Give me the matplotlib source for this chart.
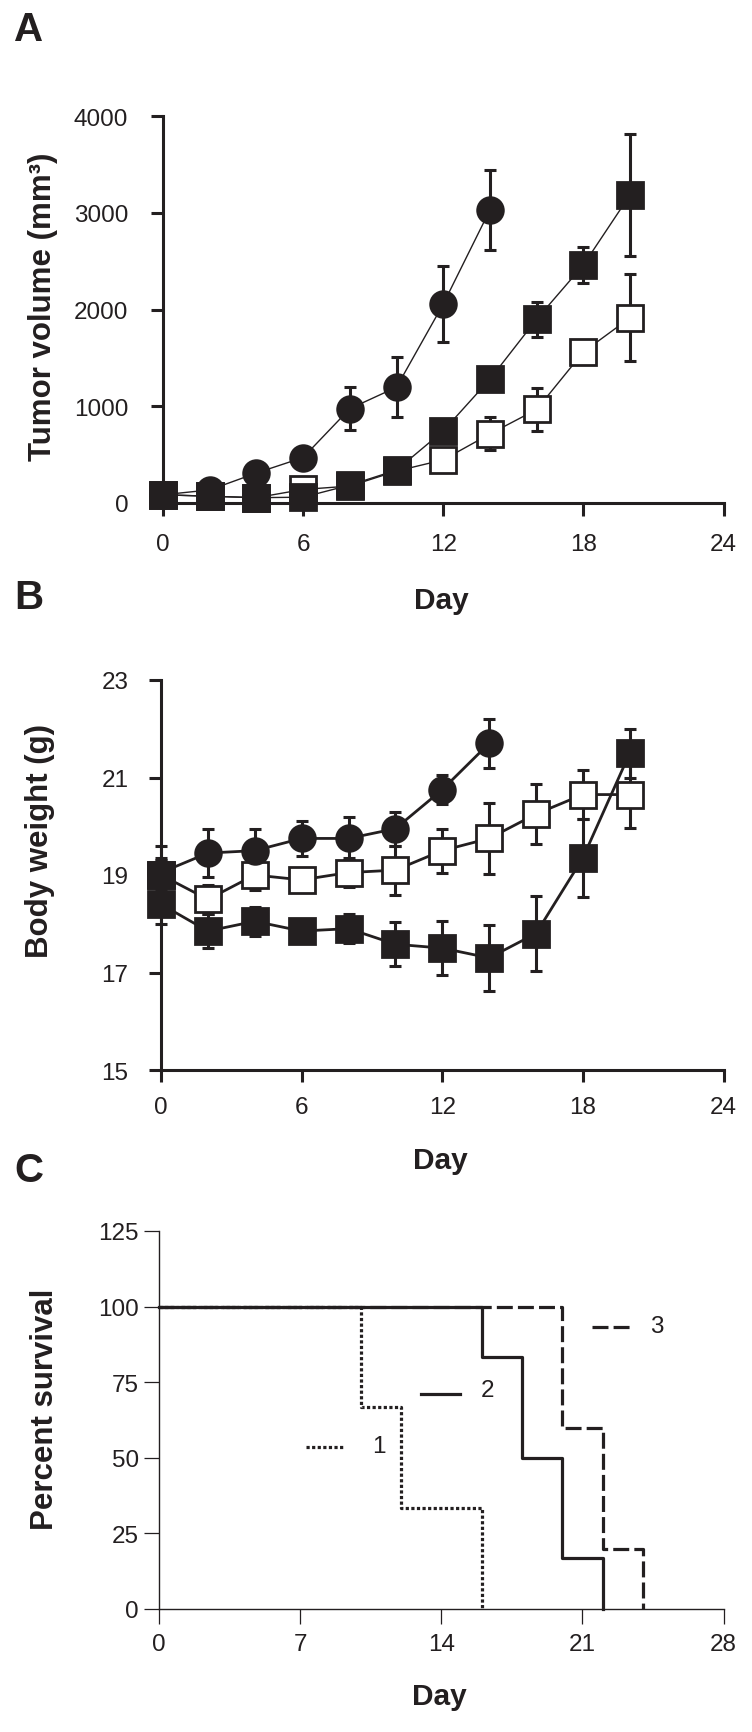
import matplotlib
matplotlib.use('Agg')
import matplotlib.pyplot as plt
from matplotlib.lines import Line2D

plt.rcParams['font.family'] = ['Liberation Sans', 'DejaVu Sans']

INK = '#231f20'

# ---------------- Panel A: tumor volume ----------------
a_days_circle = [0, 2, 4, 6, 8, 10, 12, 14]
a_circle = [85, 135, 310, 470, 975, 1197, 2056, 3030]
a_circle_err = [10, 20, 30, 40, 220, 310, 390, 415]

a_days_sq = [0, 2, 4, 6, 8, 10, 12, 14, 16, 18, 20]
a_filled = [85, 70, 55, 60, 185, 340, 745, 1280, 1900, 2460, 3185]
a_filled_err = [10, 10, 10, 10, 20, 30, 50, 60, 180, 190, 630]
a_open = [85, 70, 55, 140, 175, 330, 446, 714, 967, 1561, 1915]
a_open_err = [10, 10, 10, 20, 20, 30, 50, 170, 220, 60, 450]

a_xticks = [0, 6, 12, 18, 24]
a_yticks = [0, 1000, 2000, 3000, 4000]

# ---------------- Panel B: body weight ----------------
b_days_circle = [0, 2, 4, 6, 8, 10, 12, 14]
b_circle = [19.05, 19.45, 19.5, 19.75, 19.75, 19.95, 20.75, 21.7]
b_circle_err = [0.55, 0.5, 0.45, 0.35, 0.45, 0.35, 0.3, 0.5]

b_days_sq = [0, 2, 4, 6, 8, 10, 12, 14, 16, 18, 20]
b_open = [19.0, 18.5, 19.0, 18.9, 19.05, 19.1, 19.5, 19.75, 20.25, 20.65, 20.65]
b_open_err = [0.3, 0.3, 0.3, 0.2, 0.3, 0.5, 0.45, 0.73, 0.62, 0.5, 0.68]
b_filled = [18.4, 17.85, 18.05, 17.85, 17.9, 17.58, 17.5, 17.3, 17.8, 19.35, 21.5]
b_filled_err = [0.4, 0.35, 0.3, 0.2, 0.3, 0.45, 0.55, 0.67, 0.77, 0.8, 0.5]
b_extra_day = [0]
b_extra = [19.0]
b_extra_err = [0.35]

b_xticks = [0, 6, 12, 18, 24]
b_yticks = [15, 17, 19, 21, 23]

# ---------------- Panel C: survival ----------------
c1_days = [0, 10, 12, 16]
c1_surv = [100, 66.7, 33.3, 0]
c2_days = [0, 16, 18, 20, 22]
c2_surv = [100, 83.3, 50, 16.7, 0]
c3_days = [0, 20, 22, 24]
c3_surv = [100, 60, 20, 0]
c_labels = ['1', '2', '3']

c_xticks = [0, 7, 14, 21, 28]
c_yticks = [0, 25, 50, 75, 100, 125]

W, H = 752, 1733
fig = plt.figure(figsize=(W / 100, H / 100), dpi=100)


def px_axes(left, right, top, bottom):
    return fig.add_axes([left / W, 1 - bottom / H, (right - left) / W, (bottom - top) / H])


def style_axes(ax, lw, tlen, twidth, xpad, ypad):
    for s in ['top', 'right']:
        ax.spines[s].set_visible(False)
    for s in ['left', 'bottom']:
        ax.spines[s].set_linewidth(lw)
        ax.spines[s].set_color(INK)
    ax.tick_params(axis='both', direction='out', length=tlen, width=twidth, colors=INK,
                   labelsize=17.5)
    ax.tick_params(axis='x', pad=xpad)
    ax.tick_params(axis='y', pad=ypad)


def err(ax, x, y, e):
    c = ax.errorbar(x, y, yerr=e, fmt='none', ecolor=INK, elinewidth=2.2,
                    capsize=4.6, capthick=2.2, zorder=2)
    for art in c.get_children():
        art.set_clip_on(False)


def series(ax, x, y, marker, face, lw, z):
    ln, = ax.plot(x, y, color=INK, lw=lw, marker=marker, markersize=18.5,
                  markerfacecolor=face, markeredgecolor=INK, markeredgewidth=2,
                  zorder=z, clip_on=False)
    return ln


def labels(ax, ylab, ylab_pos, xlab_y):
    ax.set_ylabel(ylab, fontsize=22.5, fontweight='bold', color=INK)
    ax.yaxis.set_label_coords(ylab_pos[0], ylab_pos[1])
    ax.set_xlabel('Day', fontsize=21.5, fontweight='bold', color=INK)
    ax.xaxis.set_label_coords(0.497, xlab_y)


# ---- A ----
axA = px_axes(163, 723.5, 117, 504)
err(axA, a_days_sq, a_open, a_open_err)
err(axA, a_days_sq, a_filled, a_filled_err)
err(axA, a_days_circle, a_circle, a_circle_err)
series(axA, a_days_sq, a_open, 's', 'white', 1.0, 3)
series(axA, a_days_circle, a_circle, 'o', INK, 1.0, 4)
series(axA, a_days_sq, a_filled, 's', INK, 1.0, 5)
axA.set_xlim(0, 24)
axA.set_ylim(0, 4000)
axA.set_xticks(a_xticks)
axA.set_yticks(a_yticks)
style_axes(axA, 2.2, 9, 2.2, 12.3, 16)
labels(axA, 'Tumor volume (mm³)', (-0.187, 0.51), -0.2145)

# ---- B ----
axB = px_axes(161, 723.5, 681, 1071)
err(axB, b_days_sq, b_open, b_open_err)
err(axB, b_days_sq, b_filled, b_filled_err)
err(axB, b_days_circle, b_circle, b_circle_err)
err(axB, b_extra_day, b_extra, b_extra_err)
series(axB, b_days_sq, b_open, 's', 'white', 2.0, 3)
series(axB, b_days_circle, b_circle, 'o', INK, 2.0, 4)
series(axB, b_days_sq, b_filled, 's', INK, 2.0, 5)
axB.plot(b_extra_day, b_extra, ls='none', marker='s', markersize=18.5,
         markerfacecolor=INK, markeredgecolor=INK, markeredgewidth=2,
         zorder=6, clip_on=False)
axB.set_xlim(0, 24)
axB.set_ylim(15, 23)
axB.set_xticks(b_xticks)
axB.set_yticks(b_yticks)
style_axes(axB, 2.2, 8.5, 2.2, 10.5, 15)
labels(axB, 'Body weight (g)', (-0.188, 0.59), -0.195)

# ---- C ----
axC = px_axes(159, 723.5, 1232, 1610)
styles = [(0, (1.0, 0.75)), '-', (0, (5, 1.6))]
curves = [(c1_days, c1_surv), (c2_days, c2_surv), (c3_days, c3_surv)]
zs = [3, 5, 4]
for (d, s), ls, z in zip(curves, styles, zs):
    axC.step(d, s, where='post', color=INK, lw=2.3, ls=ls, zorder=z, clip_on=False)
axC.set_xlim(0, 28)
axC.set_ylim(0, 125)
axC.set_xticks(c_xticks)
axC.set_yticks(c_yticks)
style_axes(axC, 1.0, 11, 0.9, 6.3, 3.6)
labels(axC, 'Percent survival', (-0.176, 0.53), -0.193)

# in-plot labels for survival curves
key_pos = [((7.3, 9.2), 53.5, (10.9, 53.8)),
           ((13.0, 14.95), 71.0, (16.3, 72.3)),
           ((21.5, 23.45), 93.3, (24.7, 93.5))]
for (xs, yv, tpos), ls, lab in zip(key_pos, styles, c_labels):
    axC.add_line(Line2D(list(xs), [yv, yv], color=INK, lw=2.3, ls=ls))
    axC.text(tpos[0], tpos[1], lab, fontsize=17.5, color=INK, ha='center', va='center')

# Panel letters
for lab, y in [('A', 30), ('B', 598), ('C', 1171)]:
    fig.text(29 / W, 1 - y / H, lab, fontsize=29, fontweight='bold', color=INK,
             ha='center', va='center')

fig.savefig('out.png', dpi=100, facecolor='white')
